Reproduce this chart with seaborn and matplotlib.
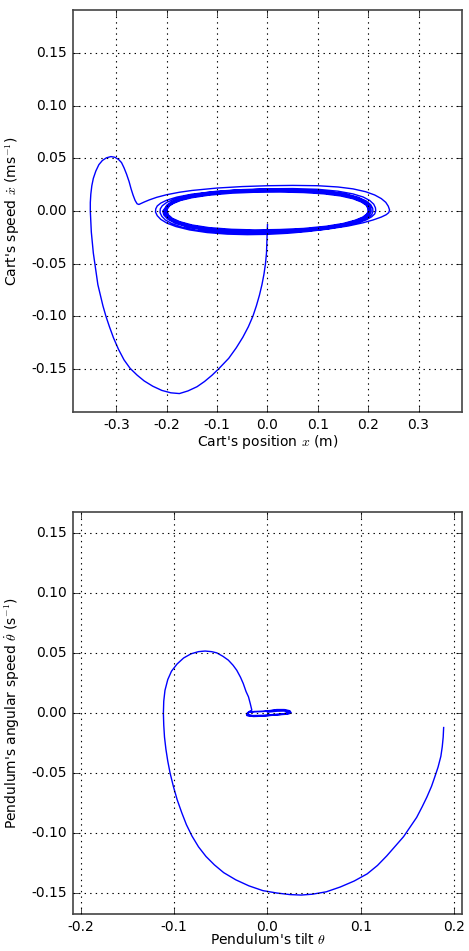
import numpy as np
import pandas as pd
import matplotlib
matplotlib.use("Agg")
import matplotlib.pyplot as plt
import matplotlib.ticker as mticker
import seaborn as sns

# --- cart phase portrait: (position x in m, speed in m/s) ---
cart_swing = [(0.000, -0.013), (-0.0005, -0.020), (-0.001, -0.030), (-0.002, -0.040), (-0.004, -0.050),
              (-0.007, -0.060), (-0.011, -0.070), (-0.016, -0.080), (-0.022, -0.090), (-0.029, -0.100),
              (-0.038, -0.110), (-0.049, -0.120), (-0.062, -0.130), (-0.077, -0.140), (-0.097, -0.150),
              (-0.110, -0.156), (-0.125, -0.162), (-0.140, -0.167), (-0.158, -0.171), (-0.175, -0.1735),
              (-0.192, -0.1728), (-0.210, -0.1705), (-0.228, -0.1665), (-0.245, -0.1615), (-0.259, -0.156),
              (-0.273, -0.1495), (-0.285, -0.1415), (-0.296, -0.1315), (-0.306, -0.1205), (-0.314, -0.110),
              (-0.321, -0.100), (-0.327, -0.090), (-0.332, -0.080), (-0.337, -0.070), (-0.340, -0.060),
              (-0.343, -0.050), (-0.346, -0.040), (-0.348, -0.030), (-0.350, -0.020), (-0.351, -0.010),
              (-0.352, 0.000), (-0.352, 0.008), (-0.351, 0.016), (-0.349, 0.024), (-0.346, 0.031),
              (-0.341, 0.038), (-0.335, 0.044), (-0.328, 0.048), (-0.320, 0.0505), (-0.311, 0.0517),
              (-0.303, 0.051), (-0.296, 0.049), (-0.290, 0.046), (-0.285, 0.041), (-0.280, 0.035),
              (-0.275, 0.028), (-0.271, 0.021), (-0.267, 0.015), (-0.263, 0.010), (-0.259, 0.0068),
              (-0.2555, 0.0062)]

cart_loop1 = [(-0.251, 0.0072), (-0.245, 0.0085), (-0.235, 0.0105), (-0.220, 0.013), (-0.200, 0.0155),
              (-0.175, 0.0178), (-0.150, 0.0195), (-0.100, 0.0218), (-0.050, 0.0232), (0.000, 0.0240),
              (0.050, 0.0243), (0.100, 0.0240), (0.140, 0.0228), (0.170, 0.0210), (0.195, 0.0183),
              (0.213, 0.0152), (0.226, 0.0118), (0.235, 0.0082), (0.240, 0.0045), (0.2425, 0.0010),
              (0.241, -0.0015), (0.236, -0.0035), (0.226, -0.0058), (0.210, -0.0085), (0.190, -0.0112),
              (0.160, -0.0143), (0.120, -0.0172), (0.080, -0.0195), (0.040, -0.0212), (0.000, -0.0222),
              (-0.040, -0.0225), (-0.080, -0.0220), (-0.120, -0.0205), (-0.155, -0.0180), (-0.182, -0.0148),
              (-0.200, -0.0115), (-0.212, -0.0080), (-0.219, -0.0045), (-0.2225, -0.0010), (-0.222, 0.0020)]

cart_loop2 = [(-0.219, 0.0048), (-0.212, 0.0075), (-0.200, 0.0103), (-0.180, 0.0132), (-0.150, 0.0160),
              (-0.100, 0.0188), (-0.050, 0.0203), (0.000, 0.0211), (0.050, 0.0213), (0.100, 0.0206),
              (0.140, 0.0188), (0.170, 0.0162), (0.190, 0.0133), (0.203, 0.0100), (0.211, 0.0065),
              (0.2145, 0.0030), (0.2150, 0.0000), (0.213, -0.0028), (0.207, -0.0055), (0.196, -0.0085),
              (0.178, -0.0115), (0.150, -0.0145), (0.110, -0.0175), (0.060, -0.0198), (0.000, -0.0212),
              (-0.050, -0.0215), (-0.100, -0.0205), (-0.140, -0.0183), (-0.170, -0.0153), (-0.190, -0.0120),
              (-0.203, -0.0085), (-0.210, -0.0050), (-0.2135, -0.0015)]

cart_loop3 = [(-0.213, 0.0020), (-0.209, 0.0050), (-0.200, 0.0082), (-0.185, 0.0113), (-0.160, 0.0145),
              (-0.120, 0.0175), (-0.070, 0.0195), (-0.020, 0.0204), (0.030, 0.0206), (0.080, 0.0200),
              (0.120, 0.0186), (0.155, 0.0162), (0.180, 0.0130), (0.196, 0.0095), (0.205, 0.0060),
              (0.209, 0.0025), (0.2095, -0.0005), (0.207, -0.0035), (0.199, -0.0068), (0.183, -0.0102),
              (0.157, -0.0137), (0.120, -0.0168), (0.075, -0.0190), (0.020, -0.0203), (-0.030, -0.0207),
              (-0.080, -0.0200), (-0.125, -0.0180), (-0.160, -0.0150), (-0.185, -0.0113), (-0.199, -0.0075),
              (-0.206, -0.0038), (-0.208, 0.0000)]

cart_loop4 = [(-0.204, 0.0025), (-0.200, 0.0055), (-0.192, 0.0083), (-0.178, 0.0113), (-0.155, 0.0143),
              (-0.120, 0.0170), (-0.075, 0.0192), (-0.025, 0.0203), (0.025, 0.0206), (0.075, 0.0200),
              (0.115, 0.0186), (0.150, 0.0163), (0.176, 0.0132), (0.193, 0.0097), (0.202, 0.0062),
              (0.2055, 0.0028), (0.206, -0.0005), (0.203, -0.0035), (0.195, -0.0068), (0.180, -0.0100),
              (0.155, -0.0135), (0.120, -0.0165), (0.075, -0.0188), (0.025, -0.0201), (-0.025, -0.0205),
              (-0.075, -0.0199), (-0.120, -0.0180), (-0.155, -0.0152), (-0.180, -0.0116), (-0.195, -0.0080),
              (-0.203, -0.0042), (-0.2055, 0.0000)]

cart_loop5 = [(-0.2025, 0.0025), (-0.1985, 0.0054), (-0.1905, 0.0081), (-0.1765, 0.0111), (-0.1535, 0.0140),
              (-0.119, 0.0167), (-0.074, 0.0188), (-0.025, 0.0199), (0.025, 0.0201), (0.074, 0.0196),
              (0.114, 0.0182), (0.148, 0.0160), (0.174, 0.0129), (0.191, 0.0095), (0.200, 0.0061),
              (0.2035, 0.0027), (0.204, -0.0005), (0.201, -0.0034), (0.193, -0.0066), (0.178, -0.0098),
              (0.1535, -0.0132), (0.119, -0.0161), (0.074, -0.0184), (0.025, -0.0196), (-0.025, -0.0200),
              (-0.074, -0.0194), (-0.119, -0.0176), (-0.1535, -0.0148), (-0.178, -0.0113), (-0.193, -0.0078),
              (-0.201, -0.0041), (-0.2035, 0.0000)]

cart_loop6 = [(-0.201, 0.0024), (-0.197, 0.0053), (-0.189, 0.0080), (-0.175, 0.0109), (-0.152, 0.0138),
              (-0.118, 0.0164), (-0.073, 0.0185), (-0.025, 0.0195), (0.025, 0.0197), (0.073, 0.0192),
              (0.113, 0.0178), (0.147, 0.0157), (0.172, 0.0127), (0.189, 0.0093), (0.1985, 0.0060),
              (0.202, 0.0026), (0.2025, -0.0005), (0.1995, -0.0033), (0.1915, -0.0065), (0.1765, -0.0096),
              (0.152, -0.0130), (0.118, -0.0158), (0.073, -0.0181), (0.025, -0.0193), (-0.025, -0.0197),
              (-0.073, -0.0191), (-0.118, -0.0173), (-0.152, -0.0146), (-0.1765, -0.0111), (-0.1915, -0.0077),
              (-0.1995, -0.0040), (-0.202, 0.0000)]

cart_loop7 = [(-0.1995, 0.0023), (-0.1955, 0.0051), (-0.1875, 0.0076), (-0.1735, 0.0104), (-0.151, 0.0132),
              (-0.117, 0.0156), (-0.072, 0.0177), (-0.025, 0.0186), (0.025, 0.0188), (0.072, 0.0183),
              (0.112, 0.0170), (0.146, 0.0150), (0.171, 0.0121), (0.1875, 0.0089), (0.197, 0.0057),
              (0.2005, 0.0025), (0.201, -0.0005), (0.198, -0.0031), (0.190, -0.0062), (0.175, -0.0092),
              (0.151, -0.0124), (0.117, -0.0151), (0.072, -0.0173), (0.025, -0.0184), (-0.025, -0.0188),
              (-0.072, -0.0182), (-0.117, -0.0165), (-0.151, -0.0139), (-0.175, -0.0106), (-0.190, -0.0073),
              (-0.198, -0.0038), (-0.2005, 0.0000)]

cart_loop8 = [(-0.1985, 0.0022), (-0.1945, 0.0049), (-0.1865, 0.0073), (-0.1725, 0.0100), (-0.150, 0.0126),
              (-0.1165, 0.0150), (-0.0715, 0.0169), (-0.025, 0.0178), (0.025, 0.0180), (0.0715, 0.0175),
              (0.1115, 0.0163), (0.145, 0.0143), (0.170, 0.0116), (0.1865, 0.0085), (0.196, 0.0055),
              (0.1995, 0.0024), (0.200, -0.0005), (0.197, -0.0030), (0.189, -0.0059), (0.174, -0.0088),
              (0.150, -0.0119), (0.1165, -0.0145), (0.0715, -0.0166), (0.025, -0.0176), (-0.025, -0.0180),
              (-0.0715, -0.0174), (-0.1165, -0.0158), (-0.150, -0.0133), (-0.174, -0.0102), (-0.189, -0.0070),
              (-0.197, -0.0036), (-0.1995, 0.0000)]

# --- pendulum phase portrait: (tilt theta, angular speed in 1/s) ---
pend_swing = [(0.189, -0.012), (0.1885, -0.020), (0.1875, -0.028), (0.186, -0.036), (0.183, -0.045),
              (0.180, -0.052), (0.176, -0.061), (0.171, -0.070), (0.166, -0.078), (0.160, -0.087),
              (0.153, -0.095), (0.146, -0.103), (0.137, -0.111), (0.128, -0.119), (0.118, -0.127),
              (0.107, -0.134), (0.093, -0.140), (0.078, -0.145), (0.063, -0.149), (0.048, -0.151),
              (0.036, -0.1517), (0.024, -0.1513), (0.010, -0.150), (-0.005, -0.148), (-0.020, -0.144),
              (-0.034, -0.139), (-0.047, -0.133), (-0.057, -0.1265), (-0.066, -0.1195), (-0.074, -0.1115),
              (-0.081, -0.1025), (-0.087, -0.093), (-0.092, -0.083), (-0.097, -0.072), (-0.101, -0.061),
              (-0.1045, -0.050), (-0.107, -0.040), (-0.109, -0.030), (-0.1105, -0.020), (-0.1113, -0.010),
              (-0.1117, 0.000), (-0.1113, 0.010), (-0.110, 0.019), (-0.107, 0.028), (-0.103, 0.035),
              (-0.097, 0.041), (-0.090, 0.046), (-0.082, 0.0495), (-0.074, 0.0513), (-0.067, 0.0518),
              (-0.060, 0.0513), (-0.0545, 0.0503), (-0.048, 0.0475), (-0.042, 0.0442), (-0.037, 0.040),
              (-0.033, 0.0358), (-0.029, 0.030), (-0.026, 0.0247), (-0.023, 0.018), (-0.0204, 0.0136),
              (-0.0185, 0.008), (-0.0168, 0.0025)]

pend_settle = [(-0.020, 0.0012), (-0.0225, -0.0005), (-0.022, -0.0020), (-0.015, -0.0028), (-0.005, -0.0025),
               (0.005, -0.0018), (0.015, -0.0012), (0.022, -0.0008), (0.0255, 0.0002), (0.024, 0.0020),
               (0.018, 0.0030), (0.010, 0.0030), (0.003, 0.0022), (-0.005, 0.0015), (-0.014, 0.0014),
               (-0.020, 0.0008), (-0.0225, -0.0008), (-0.021, -0.0020), (-0.012, -0.0025), (0.000, -0.0020),
               (0.012, -0.0012), (0.020, -0.0006), (0.024, 0.0004), (0.022, 0.0020), (0.014, 0.0026),
               (0.006, 0.0022), (-0.004, 0.0014), (-0.014, 0.0012), (-0.020, 0.0006), (-0.021, -0.0010),
               (-0.016, -0.0020), (-0.005, -0.0018), (0.008, -0.0010), (0.018, -0.0004), (0.022, 0.0008),
               (0.019, 0.0018), (0.010, 0.0016), (0.000, 0.0008)]

# ticks and axis limits
cart_xticks = [-0.3, -0.2, -0.1, 0.0, 0.1, 0.2, 0.3]
pend_xticks = [-0.2, -0.1, 0.0, 0.1, 0.2]
speed_yticks = [-0.15, -0.10, -0.05, 0.00, 0.05, 0.10, 0.15]

cart_pts = (cart_swing + cart_loop1 + cart_loop2 + cart_loop3 + cart_loop4
            + cart_loop5 + cart_loop6 + cart_loop7 + cart_loop8)
df_cart = pd.DataFrame(cart_pts, columns=["x", "v"])
df_pend = pd.DataFrame(pend_swing + pend_settle, columns=["theta", "omega"])

# old matplotlib look
plt.style.use('classic')
plt.rcParams['font.family'] = ['DejaVu Sans']
plt.rcParams['font.size'] = 10
plt.rcParams['figure.facecolor'] = 'white'
plt.rcParams['savefig.facecolor'] = 'white'

fig, axes = plt.subplots(2, 1, figsize=(4.69, 9.51), dpi=100)
axes[0].set_position([0.155, 0.5668, 0.8307, 0.4227])
axes[1].set_position([0.155, 0.0389, 0.8307, 0.4224])

sns.lineplot(data=df_cart, x="x", y="v", sort=False, estimator=None,
             color='b', lw=1.0, ax=axes[0])
sns.lineplot(data=df_pend, x="theta", y="omega", sort=False, estimator=None,
             color='b', lw=1.0, ax=axes[1])

axes[0].set_xlim(-0.387, 0.387)
axes[0].set_ylim(-0.191, 0.191)
axes[0].set_xticks(cart_xticks)
axes[0].set_yticks(speed_yticks)
axes[0].set_xlabel(r"Cart's position $x$ (m)")
axes[0].set_ylabel(r"Cart's speed $\dot{x}$ (ms$^{-1}$)")

axes[1].set_xlim(-0.209, 0.209)
axes[1].set_ylim(-0.1675, 0.1675)
axes[1].set_xticks(pend_xticks)
axes[1].set_yticks(speed_yticks)
axes[1].set_xlabel(r"Pendulum's tilt $\theta$")
axes[1].set_ylabel(r"Pendulum's angular speed $\dot{\theta}$ (s$^{-1}$)")

for ax in axes:
    ax.grid(True, linestyle=':', color='k', linewidth=0.8)
    ax.tick_params(direction='in', top=True, right=True, labelsize=10)
    ax.xaxis.set_major_formatter(mticker.FormatStrFormatter('%.1f'))
    ax.yaxis.set_major_formatter(mticker.FormatStrFormatter('%.2f'))
    ax.yaxis.set_label_coords(-0.129, 0.5)
    for s in ax.spines.values():
        s.set_color('#444444')
        s.set_linewidth(1.2)

axes[0].xaxis.set_label_coords(0.5, -0.052)
axes[1].xaxis.set_label_coords(0.5, -0.045)

fig.savefig("out.png", dpi=100, facecolor='white')
